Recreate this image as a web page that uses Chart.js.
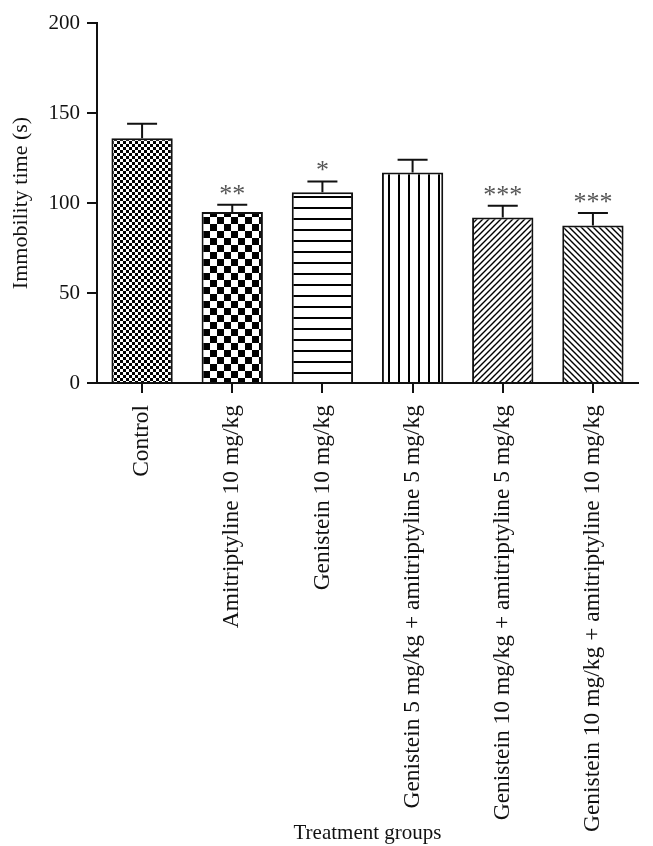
<!DOCTYPE html>
<html>
<head>
<meta charset="utf-8">
<script src="https://cdn.jsdelivr.net/npm/chart.js@4"></script>
<style>
  html, body { margin: 0; padding: 0; background: #fff; }
  #wrap { width: 653px; height: 846px; }
</style>
</head>
<body>
<div id="wrap"><canvas id="chart" width="653" height="846"></canvas></div>
<script>
const categories = [
    'Control',
    'Amitriptyline 10 mg/kg',
    'Genistein 10 mg/kg',
    'Genistein 5 mg/kg + amitriptyline 5 mg/kg',
    'Genistein 10 mg/kg + amitriptyline 5 mg/kg',
    'Genistein 10 mg/kg + amitriptyline 10 mg/kg'
];
const immobility = [136, 95, 106, 117, 92, 87.5];
const errors = [8, 4, 6, 7, 6.5, 7];
const stars = ['', '**', '*', '', '***', '***'];
const yTicks = [0, 50, 100, 150, 200];

const serif = "'Liberation Serif', 'Times New Roman', serif";

// hatch fills, one per bar
function makePattern(kind) {
    const c = document.createElement('canvas');
    const g = c.getContext('2d');
    let s = 6;
    if (kind === 'fineCheck') s = 6;
    if (kind === 'coarseCheck') s = 14;
    if (kind === 'hlines') s = 11;
    if (kind === 'vlines') s = 10;
    if (kind === 'diagUp' || kind === 'diagDown') s = 6;
    c.width = s;
    c.height = s;
    g.fillStyle = '#fff';
    g.fillRect(0, 0, s, s);
    g.fillStyle = '#000';
    g.strokeStyle = '#000';
    if (kind === 'fineCheck' || kind === 'coarseCheck') {
        const h = s / 2;
        g.fillRect(0, 0, h, h);
        g.fillRect(h, h, h, h);
    } else if (kind === 'hlines') {
        g.fillRect(0, s - 2, s, 2);
    } else if (kind === 'vlines') {
        g.fillRect(s - 2, 0, 2, s);
    } else if (kind === 'diagUp') {
        g.lineWidth = 1.4;
        g.beginPath();
        g.moveTo(0, s); g.lineTo(s, 0);
        g.moveTo(-1, 1); g.lineTo(1, -1);
        g.moveTo(s - 1, s + 1); g.lineTo(s + 1, s - 1);
        g.stroke();
    } else if (kind === 'diagDown') {
        g.lineWidth = 1.4;
        g.beginPath();
        g.moveTo(0, 0); g.lineTo(s, s);
        g.moveTo(-1, s - 1); g.lineTo(1, s + 1);
        g.moveTo(s - 1, -1); g.lineTo(s + 1, 1);
        g.stroke();
    }
    return g.createPattern(c, 'repeat');
}

const fills = ['fineCheck', 'coarseCheck', 'hlines', 'vlines', 'diagUp', 'diagDown'].map(makePattern);

const errorBars = {
    id: 'errorBars',
    afterDatasetsDraw(chart) {
        const ctx = chart.ctx;
        const meta = chart.getDatasetMeta(0);
        const y = chart.scales.y;
        ctx.save();
        meta.data.forEach((bar, i) => {
            const top = y.getPixelForValue(immobility[i] + errors[i]);
            ctx.strokeStyle = '#111';
            ctx.lineWidth = 2;
            ctx.beginPath();
            ctx.moveTo(bar.x, bar.y);
            ctx.lineTo(bar.x, top);
            ctx.moveTo(bar.x - 15, top);
            ctx.lineTo(bar.x + 15, top);
            ctx.stroke();
            // significance marks
            const n = stars[i].length;
            ctx.fillStyle = '#555';
            ctx.font = '26px ' + serif;
            ctx.textAlign = 'center';
            ctx.textBaseline = 'alphabetic';
            for (let k = 0; k < n; k++) {
                const sx = bar.x + (k - (n - 1) / 2) * 13;
                ctx.fillText('*', sx, top - 3);
            }
        });
        ctx.restore();
    }
};

new Chart(document.getElementById('chart'), {
    type: 'bar',
    data: {
        labels: categories,
        datasets: [{
            data: immobility,
            backgroundColor: fills,
            borderColor: '#111',
            borderWidth: 2,
            barPercentage: 0.68,
            categoryPercentage: 1
        }]
    },
    options: {
        responsive: false,
        animation: false,
        devicePixelRatio: 1,
        layout: { padding: { top: 23, right: 15, left: 0, bottom: 0 } },
        plugins: { legend: { display: false }, tooltip: { enabled: false } },
        scales: {
            x: {
                afterFit(scale) { scale.height = 463; },
                grid: { display: true, offset: false, drawOnChartArea: false, drawTicks: true, tickLength: 10, color: '#111', lineWidth: 2 },
                border: { display: true, color: '#111', width: 2 },
                ticks: {
                    color: '#111', minRotation: 90, maxRotation: 90, autoSkip: false, padding: 12,
                    font: { family: serif, size: 23.5 }
                },
                title: {
                    display: true, text: 'Treatment groups', color: '#111',
                    font: { family: serif, size: 21 }, padding: { top: 2, bottom: 0 }
                }
            },
            y: {
                min: 0,
                max: 200,
                afterBuildTicks(scale) { scale.ticks = yTicks.map(v => ({ value: v })); },
                afterFit(scale) { scale.width = 97; },
                grid: { display: true, drawOnChartArea: false, drawTicks: true, tickLength: 10, color: '#111', lineWidth: 2 },
                border: { display: true, color: '#111', width: 2 },
                ticks: { color: '#111', padding: 7, font: { family: serif, size: 21 } },
                title: {
                    display: true, text: 'Immobility time (s)', color: '#111',
                    font: { family: serif, size: 22 }, padding: { top: 8, bottom: 2 }
                }
            }
        }
    },
    plugins: [errorBars]
});
</script>
</body>
</html>
